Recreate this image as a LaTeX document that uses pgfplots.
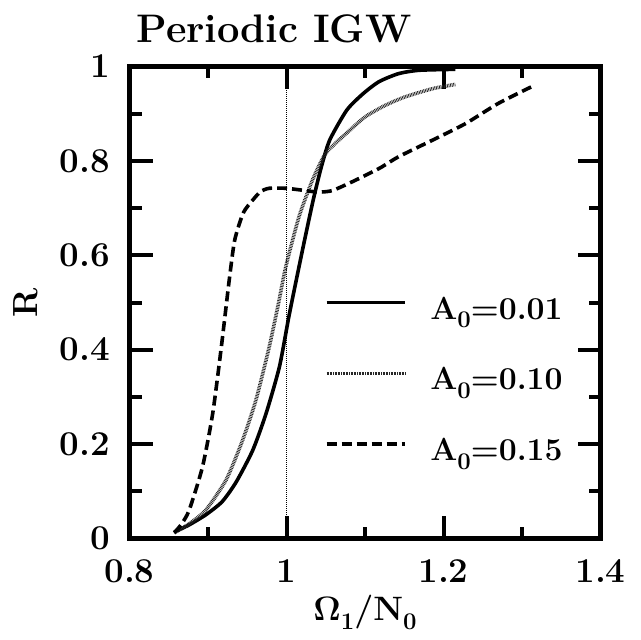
\documentclass[border=0pt]{standalone}
\usepackage{fontspec}
\setmainfont{Latin Modern Roman}
\usepackage{pgfplots}
\pgfplotsset{compat=1.18}
\newcommand{\sub}[1]{\raisebox{-0.28em}{\fontsize{24}{28}\selectfont\bfseries #1}}
\begin{document}
\begin{tikzpicture}
\begin{axis}[
  name=ax,
  scale only axis,
  width=471bp, height=472bp,
  xmin=0.8, xmax=1.4, ymin=0, ymax=1,
  xtick={0.8,1,1.2,1.4},
  ytick={0,0.2,0.4,0.6,0.8,1},
  minor xtick={0.9,1.1,1.3},
  minor ytick={0.1,0.3,0.5,0.7,0.9},
  tick pos=both,
  tick align=inside,
  major tick length=23bp,
  minor tick length=12bp,
  every tick/.style={line width=4bp, black},
  every minor tick/.style={line width=4bp, black},
  axis line style={line width=4.5bp, line join=miter},
  /pgf/number format/assume math mode=true,
  tick label style={font=\fontsize{35}{40}\selectfont\bfseries},
  xticklabel shift=18bp,
  yticklabel shift=16bp,
  xlabel={Ω\sub{1}/N\sub{0}},
  xlabel style={font=\fontsize{34}{40}\selectfont\bfseries, at={(rel axis cs:0.5,0)}, anchor=base, yshift=-81.5bp},
  ylabel={R},
  ylabel style={font=\fontsize{35}{40}\selectfont\bfseries, at={(rel axis cs:0,0.5)}, anchor=center, rotate=0, xshift=0bp, yshift=103.5bp},
  after end axis/.code={
    \node[anchor=base west, inner sep=0pt, font=\fontsize{40}{46}\selectfont\bfseries] at ([xshift=7bp, yshift=24bp]rel axis cs:0,1) {Periodic IGW};
  },
]
% vertical reference line at Omega_1/N_0 = 1
\addplot[black, line width=0.7bp, dash pattern=on 1bp off 1bp] coordinates {(1,0) (1,1)};

% A0 = 0.01 (solid)
\addplot[black, line width=3.6bp, smooth, tension=0.4] coordinates {
(0.857,0.014) (0.875,0.028) (0.897,0.050) (0.918,0.078) (0.936,0.120)
(0.957,0.187) (0.974,0.265) (0.991,0.364) (1.003,0.470) (1.013,0.552)
(1.023,0.632) (1.034,0.717) (1.044,0.785) (1.055,0.844) (1.077,0.908)
(1.098,0.943) (1.118,0.968) (1.143,0.985) (1.169,0.992) (1.215,0.994)
};

% A0 = 0.10 (dotted, grey)
\addplot[black!85, line width=3.6bp, dash pattern=on 0.8bp off 0.8bp, smooth, tension=0.4] coordinates {
(0.857,0.012) (0.875,0.030) (0.897,0.060) (0.923,0.124) (0.944,0.208)
(0.961,0.293) (0.978,0.406) (0.990,0.500) (0.999,0.575) (1.016,0.682)
(1.033,0.759) (1.050,0.816) (1.076,0.858) (1.100,0.893) (1.125,0.917)
(1.150,0.935) (1.186,0.953) (1.215,0.962)
};

% A0 = 0.15 (dashed)
\addplot[black, line width=3.6bp, dash pattern=on 10bp off 5bp, smooth, tension=0.4] coordinates {
(0.857,0.012) (0.866,0.030) (0.876,0.060) (0.893,0.152) (0.906,0.265)
(0.917,0.406) (0.927,0.547) (0.934,0.632) (0.945,0.690) (0.957,0.717)
(0.967,0.735) (0.978,0.742) (0.999,0.742) (1.020,0.738) (1.040,0.734)
(1.058,0.737) (1.084,0.756) (1.118,0.784) (1.143,0.809) (1.186,0.844)
(1.228,0.879) (1.270,0.922) (1.317,0.961)
};

% legend samples
\addplot[black, line width=3.6bp] coordinates {(1.051,0.50) (1.151,0.50)};
\addplot[black!85, line width=3.6bp, dash pattern=on 0.8bp off 0.8bp] coordinates {(1.051,0.35) (1.151,0.35)};
\addplot[black, line width=3.6bp, dash pattern=on 10bp off 5bp] coordinates {(1.051,0.20) (1.151,0.20)};

\node[anchor=base west, inner sep=0pt, yshift=-16.5bp, font=\fontsize{32}{40}\selectfont\bfseries] at (axis cs:1.183,0.50) {A\sub{0}=0.01};
\node[anchor=base west, inner sep=0pt, yshift=-16.5bp, font=\fontsize{32}{40}\selectfont\bfseries] at (axis cs:1.183,0.35) {A\sub{0}=0.10};
\node[anchor=base west, inner sep=0pt, yshift=-16.5bp, font=\fontsize{32}{40}\selectfont\bfseries] at (axis cs:1.183,0.20) {A\sub{0}=0.15};
\end{axis}
\pgfresetboundingbox
\path ([shift={(-129.5bp,-100.5bp)}]ax.south west) rectangle ([shift={(40.5bp,66.5bp)}]ax.north east);
\end{tikzpicture}
\end{document}
